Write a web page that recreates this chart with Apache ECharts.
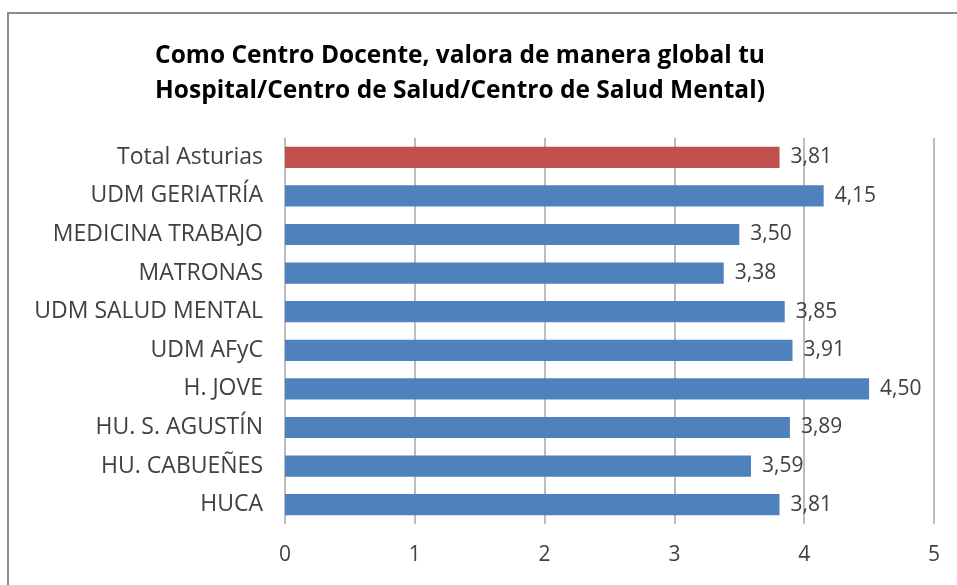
<!DOCTYPE html>
<html>
<head>
	<meta charset="utf-8">
	<title>Centro Docente</title>
	<script type="text/javascript" src="https://cdn.jsdelivr.net/npm/echarts@6/dist/echarts.min.js"></script>
	<style type="text/css">
		body{ margin:0; background:#fff; }
		#chart{ position:absolute; left:0; top:0; width:957px; height:585px; }
		.frame{
			position:absolute; left:7px; top:12px; width:960px; height:600px;
			border:2px solid #8c8c8c; pointer-events:none;
		}
	</style>
</head>
<body>
	<div id="chart"></div>
	<div class="frame"></div>
<script type="text/javascript">
	// categorias de arriba a abajo
	var categories = ['Total Asturias', 'UDM GERIATRÍA', 'MEDICINA TRABAJO', 'MATRONAS', 'UDM SALUD MENTAL',
		'UDM AFyC', 'H. JOVE', 'HU. S. AGUSTÍN', 'HU. CABUEÑES', 'HUCA'];
	var values = [3.81, 4.15, 3.50, 3.38, 3.85, 3.91, 4.50, 3.89, 3.59, 3.81];
	var xTicks = [0, 1, 2, 3, 4, 5];

	var myChart = echarts.init(document.getElementById('chart'));
	var txt = '#404040';
	var option = {
		animation: false,
		title: {
			text: 'Como Centro Docente, valora de manera global tu\nHospital/Centro de Salud/Centro de Salud Mental)',
			left: 455, top: 34, textAlign: 'center',
			textStyle: { fontFamily: 'Open Sans', fontWeight: 'bold', fontSize: 24.5, lineHeight: 35, color: '#000' }
		},
		grid: { left: 285, right: 23, top: 138, bottom: 61 },
		xAxis: {
			type: 'value', min: xTicks[0], max: xTicks[xTicks.length - 1], interval: 1,
			axisLine: { show: false }, axisTick: { show: false },
			splitLine: { lineStyle: { color: '#a6a6a6', width: 1.5 } },
			axisLabel: { color: txt, fontFamily: 'Open Sans', fontSize: 21, margin: 21 }
		},
		yAxis: {
			type: 'category', inverse: true, data: categories,
			axisLine: { show: false }, axisTick: { show: false },
			axisLabel: { color: txt, fontFamily: 'Open Sans', fontSize: 23, margin: 22 }
		},
		series: [{
			type: 'bar', barWidth: '55%',
			data: values.map(function(v, i){
				return { value: v, itemStyle: { color: i === 0 ? '#C0504D' : '#4F81BD' } };
			}),
			label: {
				show: true, position: 'right', distance: 11, color: txt,
				fontFamily: 'Open Sans', fontSize: 21,
				formatter: function(p){ return p.value.toFixed(2).replace('.', ','); }
			}
		}]
	};
	myChart.setOption(option);
</script>
</body>
</html>
